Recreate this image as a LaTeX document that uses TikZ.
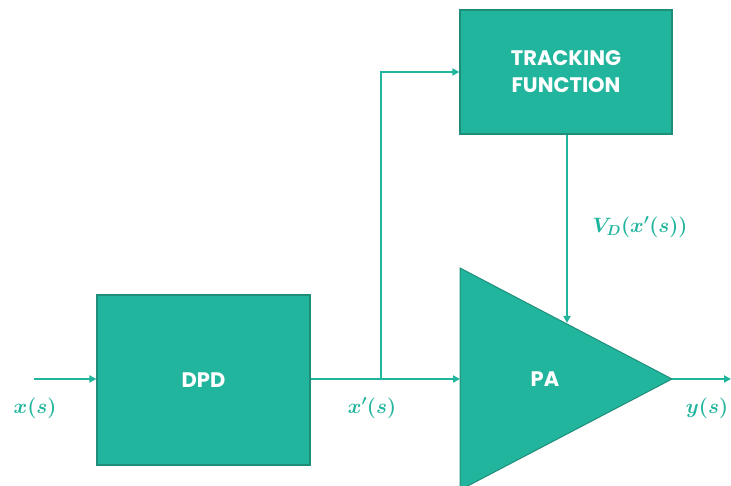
\documentclass[tikz,border=0pt]{standalone}
\usepackage{fontspec}
\usepackage{bm}
\setmainfont{Poppins}
\newfontfamily\boxfont{Poppins Bold}
\usetikzlibrary{arrows.meta}
\definecolor{teal1}{HTML}{22B59D}
\definecolor{tealedge}{HTML}{1E8E7B}
\tikzset{
  block/.style={draw=tealedge, line width=1.2pt, fill=teal1, text=white,
    font=\fontsize{21}{27}\boxfont, align=center, inner sep=0pt},
  link/.style={draw=teal1, line width=1.8pt,
    -{Triangle[length=7pt,width=7pt]}},
  lbl/.style={text=teal1, font=\fontsize{21}{24}\selectfont\boldmath, inner sep=0pt}
}
\begin{document}
\begin{tikzpicture}[x=1pt,y=-1pt]
\useasboundingbox (0,0) rectangle (731,486);
\clip (0,0) rectangle (731,486);
% blocks
\node[block, minimum width=213pt, minimum height=170pt] (dpd) at (203.5,380) {DPD};
\node[block, minimum width=212pt, minimum height=124pt] (trk) at (566,72) {TRACKING\\FUNCTION};
% power amplifier triangle
\coordinate (paT) at (460,268);
\coordinate (paB) at (460,490);
\coordinate (paA) at (672,379);
\draw[draw=tealedge, line width=1pt, fill=teal1] (paT) -- (paA) -- (paB) -- cycle;
\node[text=white, font=\fontsize{21}{27}\boxfont] (pa) at (545,379) {PA};
\coordinate (paIn) at (460,379);
% signal path
\coordinate (in) at (34,379);
\coordinate (br) at (381,379);
\coordinate (out) at (731,379);
\coordinate (vd) at (567,323);
\draw[link] (in) -- (dpd.west |- in);
\draw[link] (dpd.east |- in) -- (paIn);
\draw[link] (br) |- (trk.west |- 0,72);
\draw[link] (trk.south -| vd) -- (vd);
\draw[link] (paA) -- (out);
% signal labels
\node[lbl] (lx) at (35,408) {$\bm{x(s)}$};
\node[lbl] (lxp) at (372,408) {$\bm{x'(s)}$};
\node[lbl] (lvd) at (640,227) {$\bm{V_D(x'(s))}$};
\node[lbl] (ly) at (707,408) {$\bm{y(s)}$};
\end{tikzpicture}
\end{document}
